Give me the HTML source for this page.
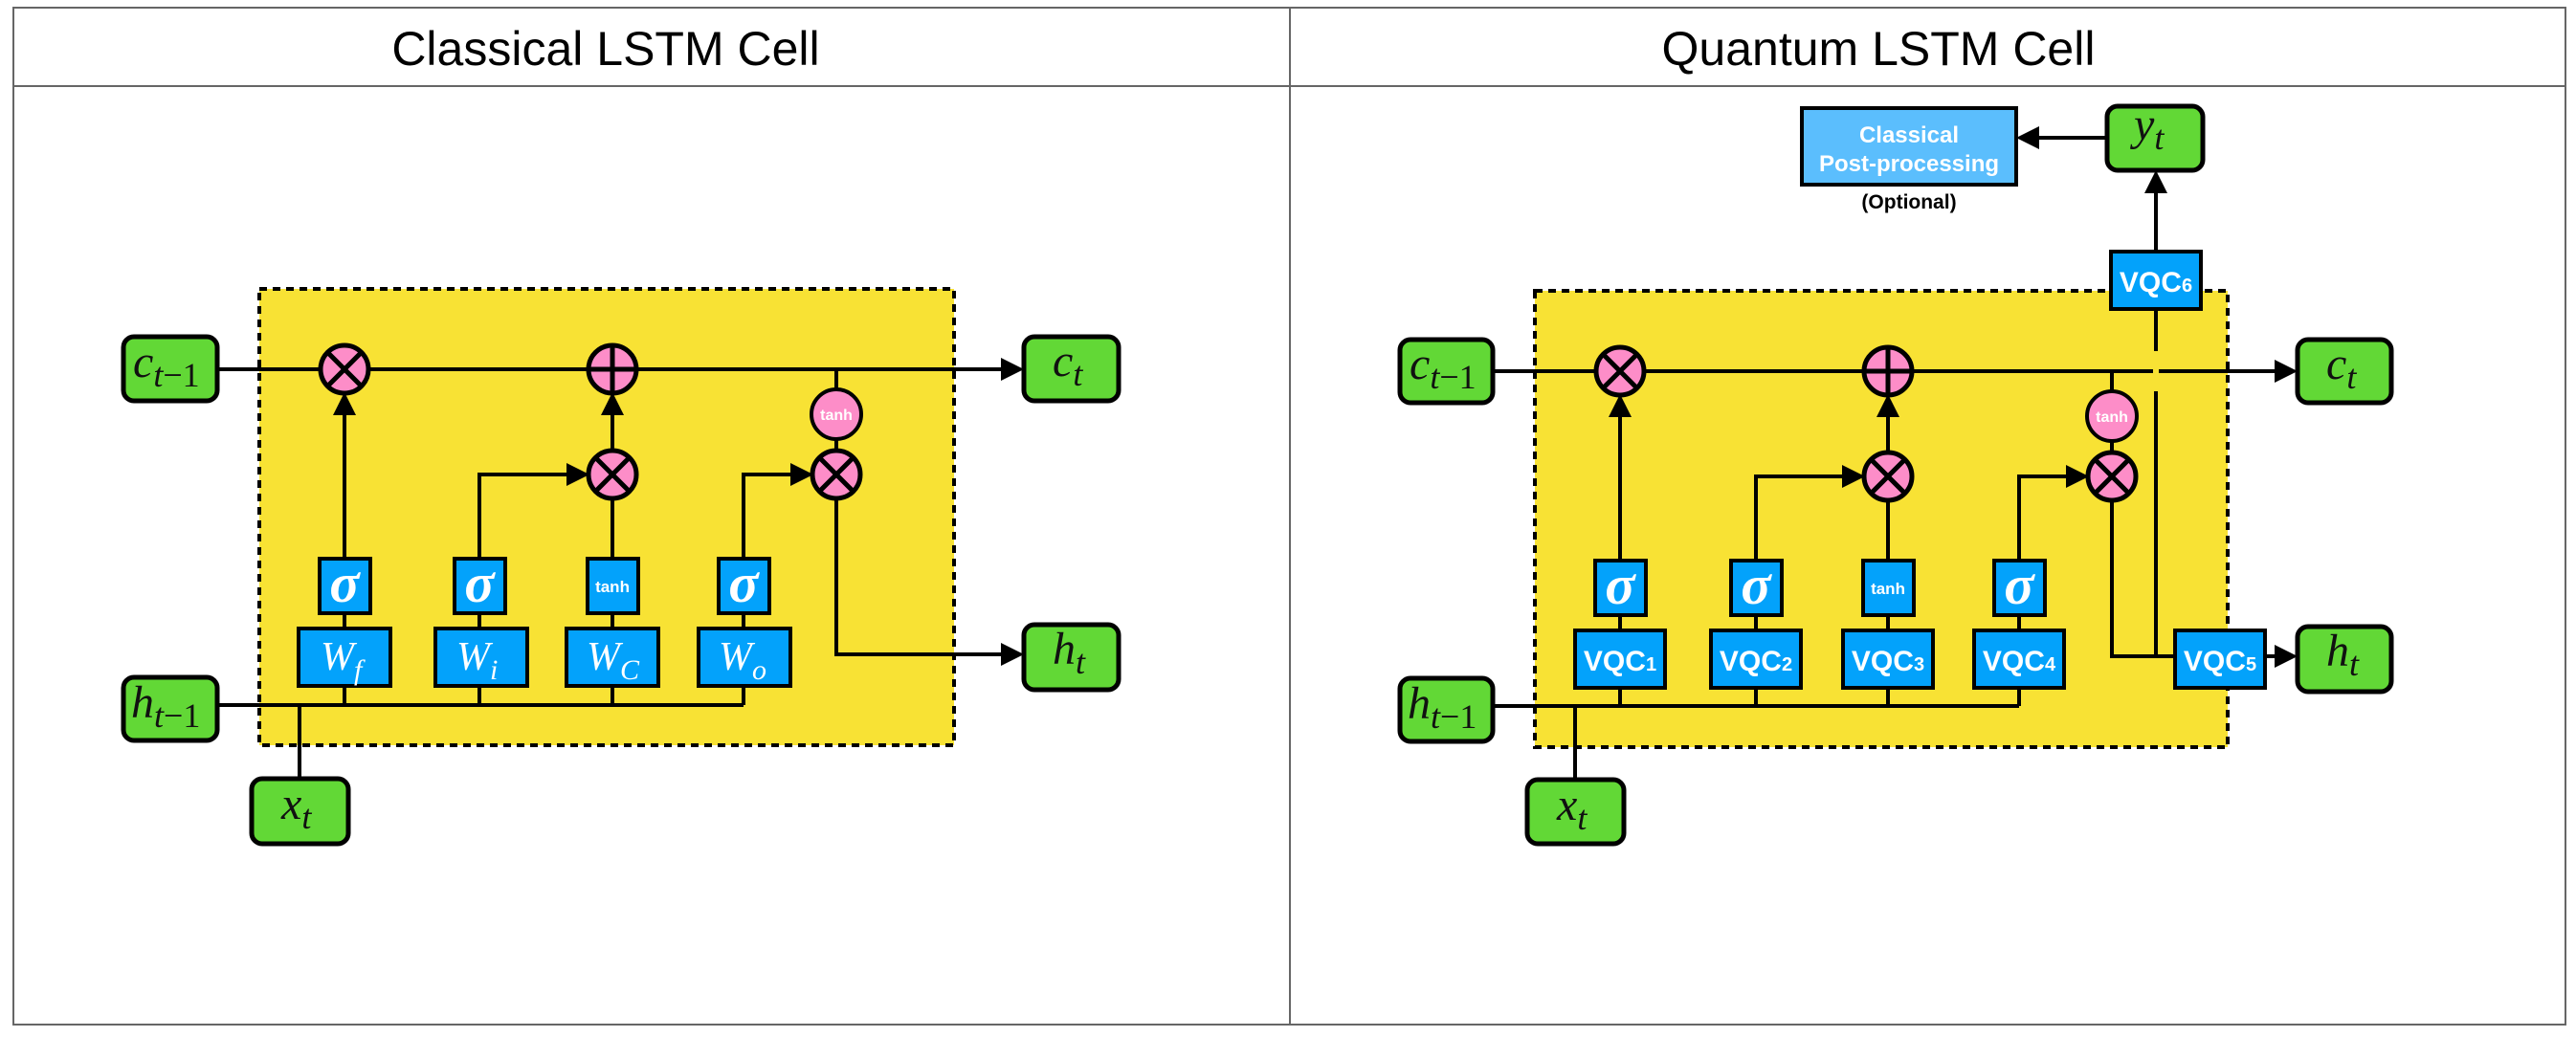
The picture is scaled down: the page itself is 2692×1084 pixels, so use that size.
<!DOCTYPE html>
<html><head><meta charset="utf-8"><style>
html,body{margin:0;padding:0;background:#fff;}
svg{display:block;}
.m{font-family:"Liberation Serif",serif;font-style:italic;fill:#111;}
.w{font-family:"Liberation Serif",serif;font-style:italic;fill:#fff;}
.v{font-family:"Liberation Sans",sans-serif;font-weight:bold;fill:#fff;}
</style></head><body>
<svg width="2692" height="1084" viewBox="0 0 2692 1084" xmlns="http://www.w3.org/2000/svg">
<defs>
<marker id="a" markerWidth="6" markerHeight="6" refX="5" refY="3" orient="auto" markerUnits="strokeWidth">
<path d="M0,0 L6,3 L0,6 z" fill="#000"/></marker>
<g id="mul"><circle r="25" fill="#fd8dc8" stroke="#000" stroke-width="5"/><path d="M-17,-17 L17,17 M17,-17 L-17,17" stroke="#000" stroke-width="5"/></g>
<g id="add"><circle r="25" fill="#fd8dc8" stroke="#000" stroke-width="5"/><path d="M-25,0 L25,0 M0,-25 L0,25" stroke="#000" stroke-width="5"/></g>
<g id="th"><circle r="26" fill="#fd8dc8" stroke="#000" stroke-width="4"/><text y="6" text-anchor="middle" font-family="Liberation Sans,sans-serif" font-weight="bold" font-size="16" fill="#fff">tanh</text></g>
<g id="sig"><rect x="-26" y="0" width="53" height="57" fill="#03a2fb" stroke="#000" stroke-width="4"/><text y="45" text-anchor="middle" class="w" font-size="58" font-weight="bold">σ</text></g>
<g id="tb"><rect x="-26" y="0" width="53" height="57" fill="#03a2fb" stroke="#000" stroke-width="4"/><text y="35" text-anchor="middle" class="v" font-size="17" font-weight="normal">tanh</text></g>
</defs>
<!-- panels -->
<rect x="14" y="8" width="1334" height="1063" fill="none" stroke="#666" stroke-width="2"/>
<rect x="1348" y="8" width="1333" height="1063" fill="none" stroke="#666" stroke-width="2"/>
<line x1="14" y1="90" x2="2681" y2="90" stroke="#666" stroke-width="2"/>
<text x="633" y="68" text-anchor="middle" font-family="Liberation Sans,sans-serif" font-size="50">Classical LSTM Cell</text>
<text x="1963" y="68" text-anchor="middle" font-family="Liberation Sans,sans-serif" font-size="50">Quantum LSTM Cell</text>

<!-- ============ LEFT ============ -->
<rect x="271" y="302" width="726" height="477" fill="#f8e234" stroke="#000" stroke-width="4" stroke-dasharray="8,6"/>
<g stroke="#000" stroke-width="4" fill="none">
<line x1="227" y1="386" x2="1066" y2="386" marker-end="url(#a)"/>
<line x1="360" y1="584" x2="360" y2="414" marker-end="url(#a)"/>
<line x1="640" y1="584" x2="640" y2="521"/>
<line x1="640" y1="471" x2="640" y2="414" marker-end="url(#a)"/>
<polyline points="501,584 501,496 612,496" marker-end="url(#a)"/>
<polyline points="777,584 777,496 846,496" marker-end="url(#a)"/>
<line x1="874" y1="386" x2="874" y2="471"/>
<polyline points="874,521 874,684 1066,684" marker-end="url(#a)"/>
<line x1="227" y1="737" x2="777" y2="737"/>
<line x1="313" y1="737" x2="313" y2="814"/>
<line x1="360" y1="641" x2="360" y2="737"/>
<line x1="501" y1="641" x2="501" y2="737"/>
<line x1="640" y1="641" x2="640" y2="737"/>
<line x1="777" y1="641" x2="777" y2="737"/>
</g>
<use href="#mul" x="360" y="386"/><use href="#add" x="640" y="386"/>
<use href="#th" x="874" y="433"/><use href="#mul" x="640" y="496"/><use href="#mul" x="874" y="496"/>
<use href="#sig" x="360" y="584"/><use href="#sig" x="501" y="584"/><use href="#tb" x="640" y="584"/><use href="#sig" x="777" y="584"/>
<g fill="#03a2fb" stroke="#000" stroke-width="4">
<rect x="312" y="657" width="96" height="60"/><rect x="455" y="657" width="96" height="60"/>
<rect x="592" y="657" width="96" height="60"/><rect x="730" y="657" width="96" height="60"/></g>
<text x="335" y="700" class="w" font-size="42">W<tspan font-size="30" dy="10">f</tspan></text>
<text x="477" y="700" class="w" font-size="42">W<tspan font-size="30" dy="10">i</tspan></text>
<text x="613" y="700" class="w" font-size="42">W<tspan font-size="30" dy="10">C</tspan></text>
<text x="751" y="700" class="w" font-size="42">W<tspan font-size="30" dy="10">o</tspan></text>
<g fill="#62d836" stroke="#000" stroke-width="5">
<rect x="129" y="352" width="98" height="67" rx="11"/><rect x="129" y="708" width="98" height="66" rx="11"/>
<rect x="263" y="814" width="101" height="68" rx="11"/><rect x="1070" y="352" width="99" height="67" rx="11"/>
<rect x="1070" y="653" width="99" height="68" rx="11"/></g>
<text x="139" y="394" class="m" font-size="48">c<tspan font-size="36" dy="10">t</tspan><tspan font-style="normal" font-size="36">−1</tspan></text>
<text x="137" y="750" class="m" font-size="48">h<tspan font-size="36" dy="10">t</tspan><tspan font-style="normal" font-size="36">−1</tspan></text>
<text x="294" y="856" class="m" font-size="48">x<tspan font-size="36" dy="10">t</tspan></text>
<text x="1100" y="393" class="m" font-size="48">c<tspan font-size="36" dy="10">t</tspan></text>
<text x="1100" y="694" class="m" font-size="48">h<tspan font-size="36" dy="10">t</tspan></text>

<!-- ============ RIGHT ============ -->
<rect x="1604" y="304" width="724" height="477" fill="#f8e234" stroke="#000" stroke-width="4" stroke-dasharray="8,6"/>
<g stroke="#000" stroke-width="4" fill="none">
<line x1="1560" y1="388" x2="2397" y2="388" marker-end="url(#a)"/>
<line x1="1693" y1="586" x2="1693" y2="416" marker-end="url(#a)"/>
<line x1="1973" y1="586" x2="1973" y2="523"/>
<line x1="1973" y1="473" x2="1973" y2="416" marker-end="url(#a)"/>
<polyline points="1835,586 1835,498 1945,498" marker-end="url(#a)"/>
<polyline points="2110,586 2110,498 2179,498" marker-end="url(#a)"/>
<line x1="2207" y1="388" x2="2207" y2="473"/>
<polyline points="2207,523 2207,686 2273,686"/>
<line x1="2367" y1="686" x2="2397" y2="686" marker-end="url(#a)"/>
<line x1="2253" y1="686" x2="2253" y2="409"/>
<line x1="2253" y1="367" x2="2253" y2="323"/>
<line x1="2253" y1="263" x2="2253" y2="182" marker-end="url(#a)"/>
<line x1="2202" y1="144" x2="2111" y2="144" marker-end="url(#a)"/>
<line x1="1560" y1="738" x2="2110" y2="738"/>
<line x1="1646" y1="738" x2="1646" y2="815"/>
<line x1="1693" y1="643" x2="1693" y2="738"/>
<line x1="1835" y1="643" x2="1835" y2="738"/>
<line x1="1973" y1="643" x2="1973" y2="738"/>
<line x1="2110" y1="643" x2="2110" y2="738"/>
</g>
<rect x="2250" y="385" width="6" height="6" fill="#f8e234"/>
<use href="#mul" x="1693" y="388"/><use href="#add" x="1973" y="388"/>
<use href="#th" x="2207" y="435"/><use href="#mul" x="1973" y="498"/><use href="#mul" x="2207" y="498"/>
<use href="#sig" x="1693" y="586"/><use href="#sig" x="1835" y="586"/><use href="#tb" x="1973" y="586"/><use href="#sig" x="2110" y="586"/>
<g fill="#03a2fb" stroke="#000" stroke-width="4">
<rect x="1646" y="659" width="94" height="60"/><rect x="1788" y="659" width="94" height="60"/>
<rect x="1926" y="659" width="94" height="60"/><rect x="2063" y="659" width="94" height="60"/>
<rect x="2273" y="659" width="94" height="60"/><rect x="2206" y="263" width="94" height="60"/></g>
<g class="v" font-size="30" text-anchor="middle">
<text x="1693" y="701">VQC<tspan font-size="20">1</tspan></text>
<text x="1835" y="701">VQC<tspan font-size="20">2</tspan></text>
<text x="1973" y="701">VQC<tspan font-size="20">3</tspan></text>
<text x="2110" y="701">VQC<tspan font-size="20">4</tspan></text>
<text x="2320" y="701">VQC<tspan font-size="20">5</tspan></text>
<text x="2253" y="305">VQC<tspan font-size="20">6</tspan></text>
</g>
<rect x="1883" y="113" width="224" height="80" fill="#5bbefd" stroke="#000" stroke-width="4"/>
<text x="1995" y="149" text-anchor="middle" class="v" font-size="24">Classical</text>
<text x="1995" y="179" text-anchor="middle" class="v" font-size="24">Post-processing</text>
<text x="1995" y="218" text-anchor="middle" font-family="Liberation Sans,sans-serif" font-weight="bold" font-size="21">(Optional)</text>
<g fill="#62d836" stroke="#000" stroke-width="5">
<rect x="1463" y="355" width="97" height="66" rx="11"/><rect x="1463" y="709" width="97" height="66" rx="11"/>
<rect x="1596" y="815" width="101" height="67" rx="11"/><rect x="2401" y="355" width="98" height="66" rx="11"/>
<rect x="2401" y="655" width="98" height="68" rx="11"/><rect x="2202" y="111" width="100" height="67" rx="11"/></g>
<text x="1473" y="396" class="m" font-size="48">c<tspan font-size="36" dy="10">t</tspan><tspan font-style="normal" font-size="36">−1</tspan></text>
<text x="1471" y="751" class="m" font-size="48">h<tspan font-size="36" dy="10">t</tspan><tspan font-style="normal" font-size="36">−1</tspan></text>
<text x="1627" y="857" class="m" font-size="48">x<tspan font-size="36" dy="10">t</tspan></text>
<text x="2431" y="396" class="m" font-size="48">c<tspan font-size="36" dy="10">t</tspan></text>
<text x="2431" y="696" class="m" font-size="48">h<tspan font-size="36" dy="10">t</tspan></text>
<text x="2230" y="146" class="m" font-size="48">y<tspan font-size="36" dy="10">t</tspan></text>
</svg>
</body></html>
